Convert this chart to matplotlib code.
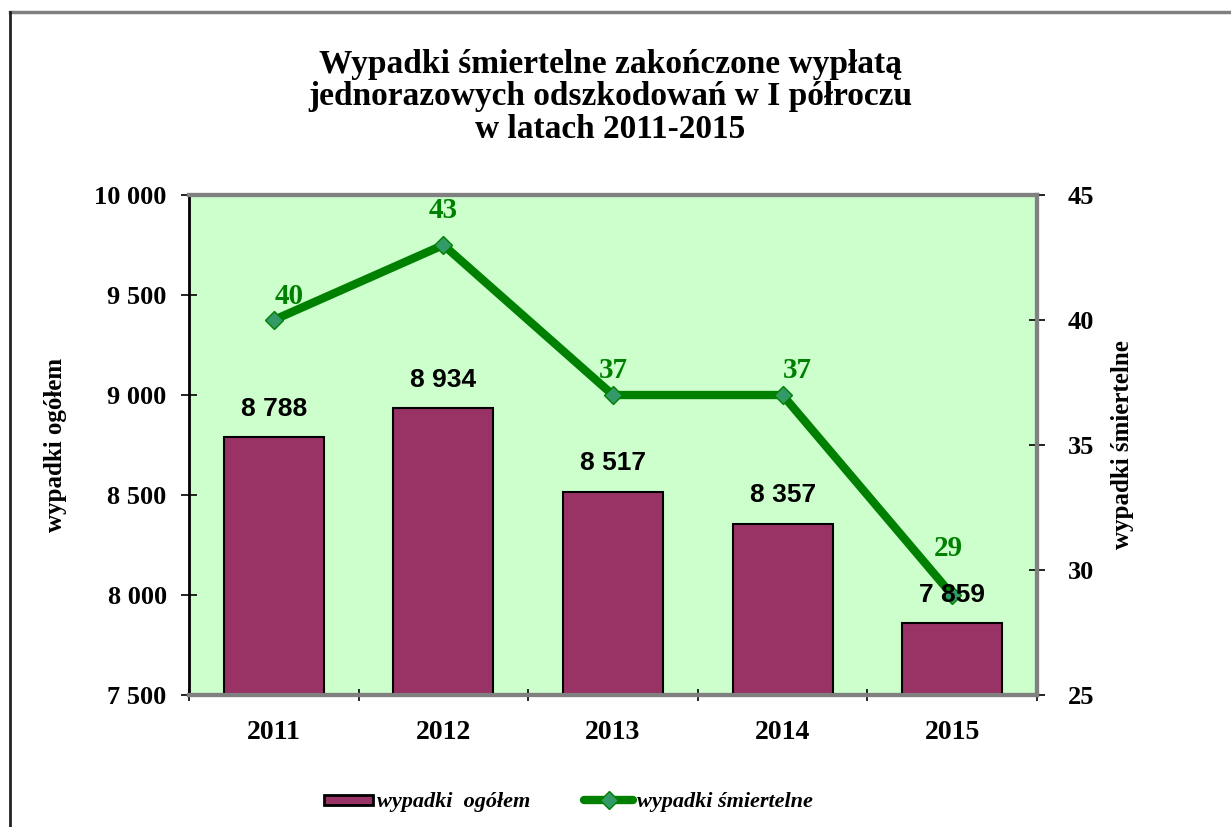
import matplotlib.pyplot as plt
import numpy as np
from matplotlib.lines import Line2D
from matplotlib.patches import Rectangle
from matplotlib.legend_handler import HandlerPatch

years = ['2011', '2012', '2013', '2014', '2015']
wypadki_ogolem = [8788, 8934, 8517, 8357, 7859]
wypadki_smiertelne = [40, 43, 37, 37, 29]
left_ticks = [7500, 8000, 8500, 9000, 9500, 10000]
right_ticks = [25, 30, 35, 40, 45]

def fmt(v):
    return f'{v:,}'.replace(',', ' ')

serif = 'Liberation Serif'
sans = 'Liberation Sans'

fig = plt.figure(figsize=(12.31, 8.27), dpi=100)
ax = fig.add_axes([0.1535, 0.1596, 0.6889, 0.6046])
ax.set_facecolor('#CCFFCC')

x = np.arange(len(years))
ax.bar(x, wypadki_ogolem, width=0.59, color='#993366', edgecolor='black', linewidth=1.5, zorder=3)

ax.set_xlim(-0.5, len(years) - 0.5)
ax.set_ylim(7500, 10000)
ax.set_yticks(left_ticks)
ax.set_yticklabels([fmt(t) for t in left_ticks], fontsize=19, fontweight='bold', family=serif)
ax.set_xticks(x)
ax.set_xticklabels(years, fontsize=20, fontweight='bold', family=serif)
ax.set_xticks(np.arange(len(years) + 1) - 0.5, minor=True)
ax.tick_params(axis='x', which='major', length=0, pad=18)
ax.tick_params(axis='x', which='minor', length=8, direction='inout', width=1.2)
ax.tick_params(axis='y', length=12, direction='inout', width=1.2, pad=10)
ax.set_ylabel('wypadki ogółem', fontsize=18, fontweight='bold', family=serif, labelpad=20)

for side in ['top', 'right']:
    ax.spines[side].set_color('#808080')
    ax.spines[side].set_linewidth(3)
ax.spines['left'].set_linewidth(2)
ax.spines['bottom'].set_color('#808080')
ax.spines['bottom'].set_linewidth(3)

ax2 = ax.twinx()
ax2.plot(x, wypadki_smiertelne, color='#008000', linewidth=6, marker='D', markersize=9,
         markerfacecolor='#339966', markeredgecolor='#008000', zorder=4)
label_offsets = [(11, 7), (0, 15), (0, 8), (11, 8), (-3, 24)]
for xi, v, off in zip(x, wypadki_smiertelne, label_offsets):
    ax2.annotate(str(v), (xi, v), xytext=off, textcoords='offset points',
                 ha='center', va='bottom', fontsize=21, fontweight='bold', family=serif,
                 color='#008000')
# etykiety slupkow nad linia
for xi, v in zip(x, wypadki_ogolem):
    ax2.annotate(fmt(v), (xi, v), xycoords=ax.transData, xytext=(0, 12), textcoords='offset points',
                 ha='center', va='bottom', fontsize=19, fontweight='bold', family=sans, zorder=6)
ax2.set_ylim(25, 45)
ax2.set_yticks(right_ticks)
ax2.set_yticklabels([str(t) for t in right_ticks], fontsize=19, fontweight='bold', family=serif)
ax2.tick_params(axis='y', length=12, direction='inout', width=1.2, pad=16)
ax2.set_ylabel('wypadki śmiertelne', fontsize=18, fontweight='bold', family=serif, labelpad=12)
for side in ['top', 'right', 'bottom']:
    ax2.spines[side].set_color('#808080')
    ax2.spines[side].set_linewidth(3)
ax2.spines['left'].set_visible(False)

fig.text(0.496, 1 - 97 / 827, 'Wypadki śmiertelne zakończone wypłatą\njednorazowych odszkodowań w I półroczu\nw latach 2011-2015',
         ha='center', va='center', fontsize=24, fontweight='bold', family=serif, linespacing=1.05)


def thin_rect(legend, orig_handle, xdescent, ydescent, width, height, fontsize):
    return Rectangle((-xdescent, -ydescent + height * 0.15), width, height * 0.65)


handles = [Rectangle((0, 0), 1, 1, facecolor='#993366', edgecolor='black', linewidth=2),
           Line2D([], [], color='#008000', linewidth=6, marker='D', markersize=9,
                  markerfacecolor='#339966', markeredgecolor='#008000', solid_capstyle='round')]
fig.legend(handles, ['wypadki  ogółem', 'wypadki śmiertelne'], loc='center', bbox_to_anchor=(0.462, 1 - 802 / 827),
           ncol=2, frameon=False, prop={'family': serif, 'weight': 'bold', 'style': 'italic', 'size': 16},
           handlelength=2.2, handletextpad=0.2, columnspacing=2.4,
           handler_map={Rectangle: HandlerPatch(patch_func=thin_rect)})

# ramka wykresu
fig.add_artist(Line2D([10 / 1231, 1], [1 - 12 / 827, 1 - 12 / 827], color='#808080', linewidth=2.5,
                      transform=fig.transFigure))
fig.add_artist(Line2D([10 / 1231, 10 / 1231], [0, 1 - 12 / 827], color='#222222', linewidth=2,
                      transform=fig.transFigure))

fig.savefig('out.png', dpi=100)
